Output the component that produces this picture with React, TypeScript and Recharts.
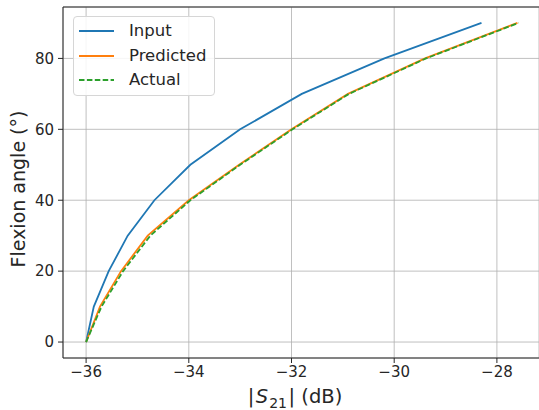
import React from 'react';
import { LineChart, Line, XAxis, YAxis, CartesianGrid, ReferenceLine, Legend } from 'recharts';

const angles = [0, 10, 20, 30, 40, 50, 60, 70, 80, 90];
const inputS21 = [-36, -35.85, -35.56, -35.19, -34.67, -33.97, -33.0, -31.8, -30.19, -28.3];
const predictedS21 = [-36, -35.73, -35.32, -34.8, -34.0, -33.02, -32.0, -30.9, -29.4, -27.6];
const actualS21 = [-36, -35.7, -35.28, -34.75, -33.97, -33.0, -31.98, -30.88, -29.38, -27.58];
const xTicks = [-36, -34, -32, -30, -28];
const yTicks = [0, 20, 40, 60, 80];

const seriesNames = ['Input', 'Predicted', 'Actual'];
const colors = ['#1f77b4', '#ff7f0e', '#2ca02c'];

const toData = (xs: number[]) => xs.map((x, i) => ({ x, y: angles[i] }));
const inputData = toData(inputS21);
const predictedData = toData(predictedS21);
const actualData = toData(actualS21);

const FONT = '"DejaVu Sans", sans-serif';
const AX = '#262626';

const fmt = (v: number) => String(v).replace('-', '\u2212');

const LegendBox = () => (
  <div
    style={{
      width: 142,
      height: 80,
      boxSizing: 'border-box',
      border: '1px solid #d6d6d6',
      borderRadius: 4,
      background: 'rgba(255,255,255,0.85)',
      fontFamily: FONT,
      fontSize: 16.5,
      color: AX,
      position: 'relative',
    }}
  >
    {seriesNames.map((n, i) => (
      <div key={n} style={{ position: 'absolute', left: 0, top: 14 + i * 24.5 - 10, height: 20, width: 140 }}>
        <svg width={50} height={20} style={{ position: 'absolute', left: 0, top: 0 }}>
          <line
            x1={5}
            x2={40}
            y1={10}
            y2={10}
            stroke={colors[i]}
            strokeWidth={1.8}
            strokeDasharray={i === 2 ? '5.5 2.4' : undefined}
          />
        </svg>
        <span style={{ position: 'absolute', left: 55, top: 0, lineHeight: '20px', whiteSpace: 'nowrap' }}>{n}</span>
      </div>
    ))}
  </div>
);

const XLabel = () => (
  <text x={295} y={403} textAnchor="middle" fontFamily={FONT} fontSize={19.5} fill={AX}>
    <tspan>|</tspan>
    <tspan fontStyle="italic" dx={1.5}>S</tspan>
    <tspan fontSize={14} dy={4.5} dx={1}>21</tspan>
    <tspan dy={-4.5} dx={1.5}>| (dB)</tspan>
  </text>
);

const YLabel = () => (
  <text
    x={0}
    y={0}
    transform="translate(25,189) rotate(-90)"
    textAnchor="middle"
    fontFamily={FONT}
    fontSize={19}
    fill={AX}
  >
    Flexion angle (°)
  </text>
);

export default function App() {
  return (
    <div style={{ position: 'absolute', left: 0, top: 0, width: 539, height: 410, background: '#fff' }}>
      <LineChart width={539} height={410} margin={{ top: 7, right: 0, bottom: 0, left: 0 }}>
        <CartesianGrid stroke="#b0b0b0" strokeWidth={0.8} />
        <XAxis
          type="number"
          dataKey="x"
          domain={[-36.45, -27.18]}
          allowDataOverflow
          ticks={xTicks}
          tickFormatter={fmt}
          height={52}
          tickSize={5}
          tickMargin={3}
          stroke={AX}
          tick={{ fill: AX, fontSize: 15, fontFamily: FONT }}
          label={{ content: () => <XLabel /> }}
        />
        <YAxis
          type="number"
          dataKey="y"
          domain={[-4.5, 94.5]}
          allowDataOverflow
          ticks={yTicks}
          width={63}
          tickSize={5}
          tickMargin={4}
          stroke={AX}
          tick={{ fill: AX, fontSize: 15, fontFamily: FONT }}
          label={{ content: () => <YLabel /> }}
        />
        <ReferenceLine y={94.5} stroke={AX} strokeWidth={1} />
        <Line data={inputData} dataKey="y" name="Input" stroke={colors[0]} strokeWidth={1.8} dot={false} isAnimationActive={false} />
        <Line data={predictedData} dataKey="y" name="Predicted" stroke={colors[1]} strokeWidth={1.8} dot={false} isAnimationActive={false} />
        <Line
          data={actualData}
          dataKey="y"
          name="Actual"
          stroke={colors[2]}
          strokeWidth={1.8}
          strokeDasharray="5.5 2.4"
          dot={false}
          isAnimationActive={false}
        />
        <Legend
          layout="vertical"
          align="center"
          verticalAlign="middle"
          wrapperStyle={{ position: 'absolute', left: 73, top: 16, width: 142, height: 80 }}
          content={() => <LegendBox />}
        />
      </LineChart>
    </div>
  );
}
